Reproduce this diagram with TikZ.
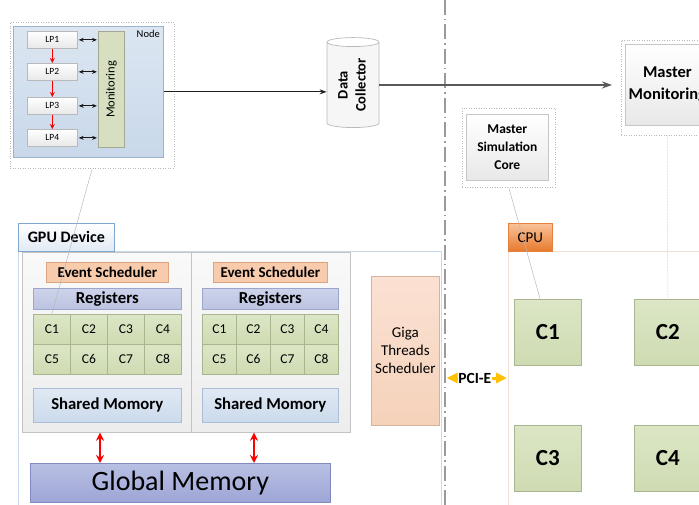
\documentclass[tikz,border=0pt]{standalone}
\usepackage{fontspec}
\setmainfont{Carlito}
\usepackage{graphicx}
\usetikzlibrary{shapes.geometric,arrows.meta,shadows,calc}
\definecolor{nodeT}{HTML}{DCE6F2}
\definecolor{nodeB}{HTML}{C8D8EA}
\definecolor{nodeD}{HTML}{9DB2CB}
\definecolor{monG}{HTML}{D8DFC0}
\definecolor{monD}{HTML}{A3A890}
\definecolor{coreT}{HTML}{DCE6C6}
\definecolor{coreB}{HTML}{CEDBB2}
\definecolor{coreD}{HTML}{A8B58E}
\definecolor{esF}{HTML}{F8CBAD}
\definecolor{esD}{HTML}{DCA47F}
\definecolor{regT}{HTML}{CDD3EA}
\definecolor{regB}{HTML}{BCC3E1}
\definecolor{regD}{HTML}{9CA5CA}
\definecolor{shT}{HTML}{E0E9F4}
\definecolor{shB}{HTML}{CBDAEB}
\definecolor{shD}{HTML}{A9BDD5}
\definecolor{smT}{HTML}{F9F9F9}
\definecolor{smB}{HTML}{EDEDED}
\definecolor{smD}{HTML}{C4C4C4}
\definecolor{gigaT}{HTML}{FBE1D3}
\definecolor{gigaB}{HTML}{F5D2BA}
\definecolor{gigaD}{HTML}{D8B29C}
\definecolor{gmT}{HTML}{B9C0E3}
\definecolor{gmB}{HTML}{9DA5D6}
\definecolor{gmD}{HTML}{8189C0}
\definecolor{gpuD}{HTML}{7FA7D2}
\definecolor{gpuR}{HTML}{C6DAEC}
\definecolor{cpuT}{HTML}{F9C29A}
\definecolor{cpuB}{HTML}{E77A2C}
\definecolor{cpuD}{HTML}{E3813E}
\definecolor{cpuR}{HTML}{F6DFD0}
\definecolor{pciY}{HTML}{FFC000}
\definecolor{divG}{HTML}{9A9A9A}
\begin{document}
\begin{tikzpicture}[x=1pt,y=-1pt,
  box/.style={draw, line width=0.7pt, inner sep=0pt, anchor=north west, align=center},
  shd/.style={drop shadow={shadow xshift=1pt, shadow yshift=-1pt, opacity=0.18}},
  framed/.style={draw=gray!55, line width=0.5pt, dash pattern=on 1pt off 1.5pt, inner sep=0pt, anchor=north west},
  lpbox/.style={box, shd, draw=gray!55, top color=white, bottom color=gray!18, minimum width=50pt, minimum height=17pt, font=\fontsize{9.5}{11}\selectfont},
  mastbox/.style={box, shd, draw=gray!45, top color=white, bottom color=gray!18},
  esbox/.style={box, shd, draw=esD, fill=esF, minimum height=20pt, font=\bfseries\fontsize{15}{16}\selectfont},
  regbox/.style={box, shd, draw=regD, top color=regT, bottom color=regB, minimum height=21pt, font=\bfseries\fontsize{16.8}{18}\selectfont},
  cellbox/.style={box, draw=coreD, top color=coreT, bottom color=coreB, minimum height=30pt, font=\fontsize{13.5}{15}\selectfont},
  shmbox/.style={box, shd, draw=shD, top color=shT, bottom color=shB, minimum height=34pt, font=\bfseries\fontsize{16.7}{18}\selectfont},
  smbox/.style={box, draw=smD, top color=smT, bottom color=smB, minimum height=180pt},
  corebox/.style={box, shd, draw=coreD, top color=coreT, bottom color=coreB, minimum width=67pt, minimum height=66pt, font=\bfseries\fontsize{23}{25}\selectfont},
  dblk/.style={{Stealth[length=5pt,width=4pt]}-{Stealth[length=5pt,width=4pt]}, line width=0.8pt, draw=gray!20!black, shorten <=1pt, shorten >=1pt},
  redsm/.style={-{Stealth[length=5pt,width=5pt]}, line width=0.8pt, draw=red},
  redbig/.style={{Stealth[length=8pt,width=8pt]}-{Stealth[length=8pt,width=8pt]}, line width=2pt, draw=red},
  thinln/.style={draw=gray!55, line width=0.5pt}
]
\useasboundingbox (0,0) rectangle (699,505);
\clip (0,0) rectangle (699,505);

% ---- regions
\node[box, draw=gpuR, minimum width=423pt, minimum height=270pt] (gpureg) at (18,251) {};
\node[box, draw=gpuD, top color=white, bottom color=shT, minimum width=96pt, minimum height=28pt, font=\bfseries\fontsize{16}{18}\selectfont] (gputab) at (18,223) {GPU Device};
\node[box, draw=cpuR, minimum width=220pt, minimum height=270pt] (cpureg) at (508,251) {};
\node[box, draw=cpuD, top color=cpuT, bottom color=cpuB, minimum width=44pt, minimum height=28pt, font=\fontsize{15}{17}\selectfont] (cputab) at (508,223) {CPU};

% ---- Node cluster
\node[framed, minimum width=164pt, minimum height=146pt] (nodeframe) at (10,22) {};
\node[box, shd, draw=nodeD, top color=nodeT, bottom color=nodeB, minimum width=150pt, minimum height=131pt] (nodebox) at (13,26) {};
\node[anchor=north east, inner sep=0pt, font=\fontsize{10.5}{12}\selectfont] (nodelbl) at (160,30) {Node};
\node[lpbox] (lp1) at (27,31) {LP1};
\node[lpbox] (lp2) at (27,63) {LP2};
\node[lpbox] (lp3) at (27,97) {LP3};
\node[lpbox] (lp4) at (27,129) {LP4};
\node[box, draw=monD, fill=monG, minimum width=26pt, minimum height=116pt, font=\fontsize{12.5}{14}\selectfont] (mon) at (98,31) {\rotatebox{90}{Monitoring}};
\foreach \i in {1,...,4} \draw[dblk] (lp\i.east) -- (lp\i.east -| mon.west);
\foreach \i/\j in {1/2,2/3,3/4} \draw[redsm] (lp\i.south) -- (lp\j.north);

% ---- Data collector
\node[cylinder, draw=gray!55, line width=0.7pt, shape border rotate=90, aspect=0.25, minimum width=52pt, minimum height=90pt, cylinder uses custom fill, cylinder body fill=gray!7, cylinder end fill=white, inner sep=0pt, font=\bfseries\fontsize{14.5}{18}\selectfont] (dc) at (353,85) {\rotatebox{90}{\begin{tabular}{@{}c@{}}Data\\Collector\end{tabular}}};

% ---- Master nodes
\node[framed, minimum width=93pt, minimum height=79pt] (mscf) at (462,108) {};
\node[mastbox, minimum width=82pt, minimum height=66pt, font=\bfseries\fontsize{13.5}{18}\selectfont] (msc) at (466,114) {Master\\Simulation\\Core};
\node[framed, minimum width=92pt, minimum height=95pt] (mmf) at (621,40) {};
\node[mastbox, minimum width=84pt, minimum height=81pt, font=\bfseries\fontsize{16.5}{22}\selectfont] (mm) at (625,44) {Master\\Monitoring};

% ---- GPU content
\node[smbox, minimum width=169pt] (sm1) at (22,252) {};
\node[smbox, minimum width=159pt] (sm2) at (191,252) {};
\node[esbox, minimum width=122pt] (es1) at (46,262) {Event Scheduler};
\node[esbox, minimum width=114pt] (es2) at (213,262) {Event Scheduler};
\node[regbox, minimum width=148pt] (reg1) at (33,288) {Registers};
\node[regbox, minimum width=136pt] (reg2) at (202,288) {Registers};
\foreach \r in {0,1}
  \foreach \c in {0,...,3} {
    \pgfmathtruncatemacro\n{4*\r+\c+1}
    \node[cellbox, minimum width=37pt] (ga\n) at (33+37*\c, 314+30*\r) {C\n};
    \node[cellbox, minimum width=34pt] (gb\n) at (202+34*\c, 314+30*\r) {C\n};
  }
\node[shmbox, minimum width=148pt] (shm1) at (33,388) {Shared Momory};
\node[shmbox, minimum width=136pt] (shm2) at (202,388) {Shared Momory};
\node[box, draw=gigaD, top color=gigaT, bottom color=gigaB, minimum width=68pt, minimum height=149pt, font=\fontsize{15}{18}\selectfont] (giga) at (371,276) {Giga\\Threads\\Scheduler};
\node[box, shd, draw=gmD, top color=gmT, bottom color=gmB, minimum width=300pt, minimum height=39pt, font=\fontsize{28}{30}\selectfont] (gm) at (30,463) {Global Memory};
\coordinate (rx1) at (100,447);
\coordinate (rx2) at (254,447);
\draw[redbig] (sm1.south -| rx1) -- (gm.north -| rx1);
\draw[redbig] (sm2.south -| rx2) -- (gm.north -| rx2);

% ---- CPU cores
\node[corebox] (cc1) at (514,299) {C1};
\node[corebox] (cc2) at (634,299) {C2};
\node[corebox] (cc3) at (514,425) {C3};
\node[corebox] (cc4) at (634,425) {C4};

% ---- divider
\draw[divG, line width=2pt, dash pattern=on 15pt off 4pt on 1.5pt off 4pt] (445,0) -- (445,505);

% ---- PCI-E
\coordinate (pcy) at (0,378);
\draw[pciY, line width=3pt, {Triangle[length=11pt,width=10pt]}-{Triangle[length=11pt,width=10pt]}, shorten <=5pt, shorten >=1pt] (gpureg.east |- pcy) -- (cpureg.west |- pcy) node[midway, fill=white, inner sep=0.3pt, text=black, font=\bfseries\fontsize{15.5}{17}\selectfont] (pcie) {PCI-E};

% ---- connectors
\draw[-{Stealth[length=7pt,width=5pt]}, line width=1pt, draw=gray!25!black] (nodebox.east) -- (nodebox.east -| dc.west);
\draw[-{Stealth[length=10pt,width=7pt]}, line width=2pt, draw=gray!70!black, shorten >=9pt] (dc.east) -- (dc.east -| mmf.west);
\draw[thinln] (nodeframe.south) -- (ga1.north);
\draw[thinln] (mscf.south) -- (cc1.103);
\draw[thinln, densely dotted] (mmf.south) -- (cc2.north);
\end{tikzpicture}
\end{document}
